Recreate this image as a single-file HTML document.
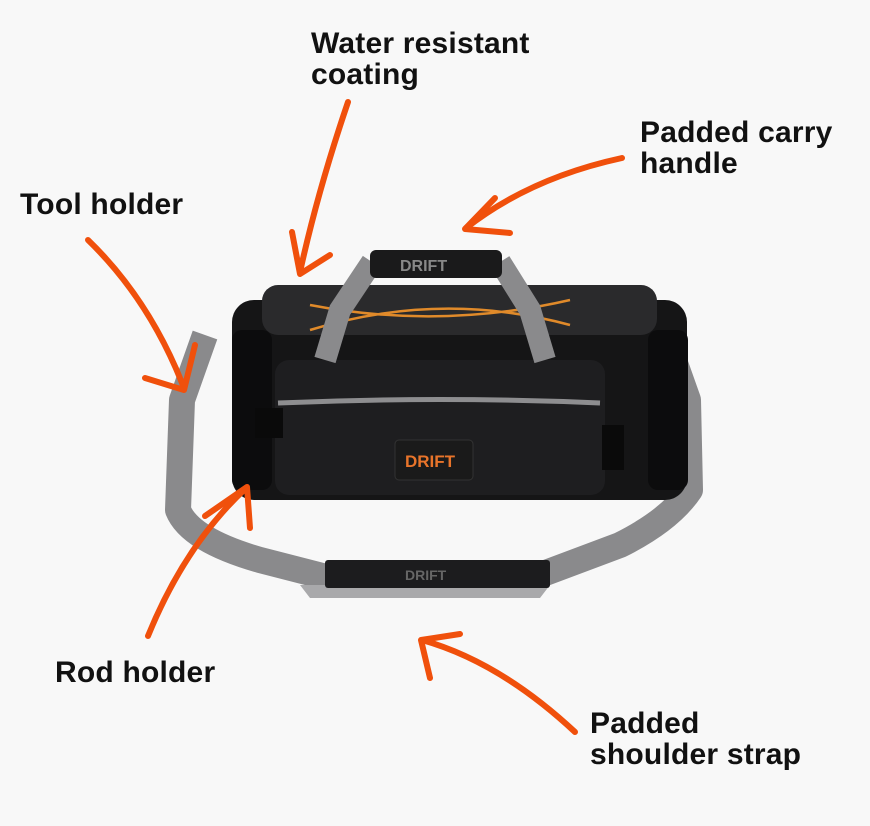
<!DOCTYPE html>
<html><head><meta charset="utf-8"><style>
html,body{margin:0;padding:0;background:#f8f8f8;}
.t{position:absolute;font-family:"Liberation Sans",sans-serif;font-weight:bold;font-size:30px;line-height:31px;color:#111;letter-spacing:0.2px}
</style></head><body>
<div style="position:relative;width:870px;height:826px;overflow:hidden">
<svg width="870" height="826" style="position:absolute;left:0;top:0">
<path d="M205,335 L182,400 L178,510 Q190,540 260,560 L330,578" stroke="#8a8a8c" stroke-width="26" fill="none" stroke-linejoin="round"/>
<path d="M665,335 L688,400 L690,490 Q670,520 620,545 L540,575" stroke="#8a8a8c" stroke-width="26" fill="none" stroke-linejoin="round"/>
<path d="M300,585 L550,585 L540,598 L310,598 Z" fill="#a9a9ab"/>
<rect x="325" y="560" width="225" height="28" rx="3" fill="#1c1c1e"/>
<text x="405" y="580" font-family="Liberation Sans" font-weight="bold" font-size="14" fill="#666">DRIFT</text>
<rect x="232" y="300" width="455" height="200" rx="22" fill="#151516"/>
<rect x="262" y="285" width="395" height="50" rx="16" fill="#2a2a2c"/>
<rect x="232" y="330" width="40" height="160" rx="10" fill="#0c0c0d"/>
<rect x="648" y="330" width="40" height="160" rx="10" fill="#0c0c0d"/>
<rect x="275" y="360" width="330" height="135" rx="14" fill="#1e1e20"/>
<path d="M278,403 Q440,396 600,403" stroke="#8e8e90" stroke-width="5" fill="none"/>
<path d="M310,305 Q440,330 570,300 M310,330 Q440,290 570,325" stroke="#e08a2a" stroke-width="2.5" fill="none"/>
<rect x="255" y="408" width="28" height="30" fill="#0a0a0a"/>
<rect x="602" y="425" width="22" height="45" fill="#0a0a0a"/>
<path d="M325,360 L340,310 L372,262 M545,360 L530,310 L500,262" stroke="#8a8a8c" stroke-width="22" fill="none"/>
<rect x="370" y="250" width="132" height="28" rx="6" fill="#1a1a1b"/>
<text x="400" y="271" font-family="Liberation Sans" font-weight="bold" font-size="16" fill="#888">DRIFT</text>
<rect x="395" y="440" width="78" height="40" rx="4" fill="#1a1a1a" stroke="#333"/>
<text x="405" y="467" font-family="Liberation Sans" font-weight="bold" font-size="17" fill="#e8742a">DRIFT</text>
<g stroke="#f0500c" stroke-width="6" fill="none" stroke-linecap="round" stroke-linejoin="round">
<path d="M348,102 Q318,190 300,272"/>
<path d="M292,232 L300,274 L330,255"/>
<path d="M622,158 Q530,178 466,228"/>
<path d="M495,198 L465,229 L510,233"/>
<path d="M88,240 Q150,300 184,388"/>
<path d="M145,378 L184,390 L195,345"/>
<path d="M148,636 Q185,545 246,488"/>
<path d="M205,516 L247,487 L250,528"/>
<path d="M575,732 Q500,662 422,640"/>
<path d="M460,634 L421,640 L430,678"/>
</g>
</svg>
<div class="t" style="left:311px;top:28px">Water resistant<br>coating</div>
<div class="t" style="left:640px;top:117px">Padded carry<br>handle</div>
<div class="t" style="left:20px;top:189px">Tool holder</div>
<div class="t" style="left:55px;top:657px">Rod holder</div>
<div class="t" style="left:590px;top:708px">Padded<br>shoulder strap</div>
</div>
</body></html>
